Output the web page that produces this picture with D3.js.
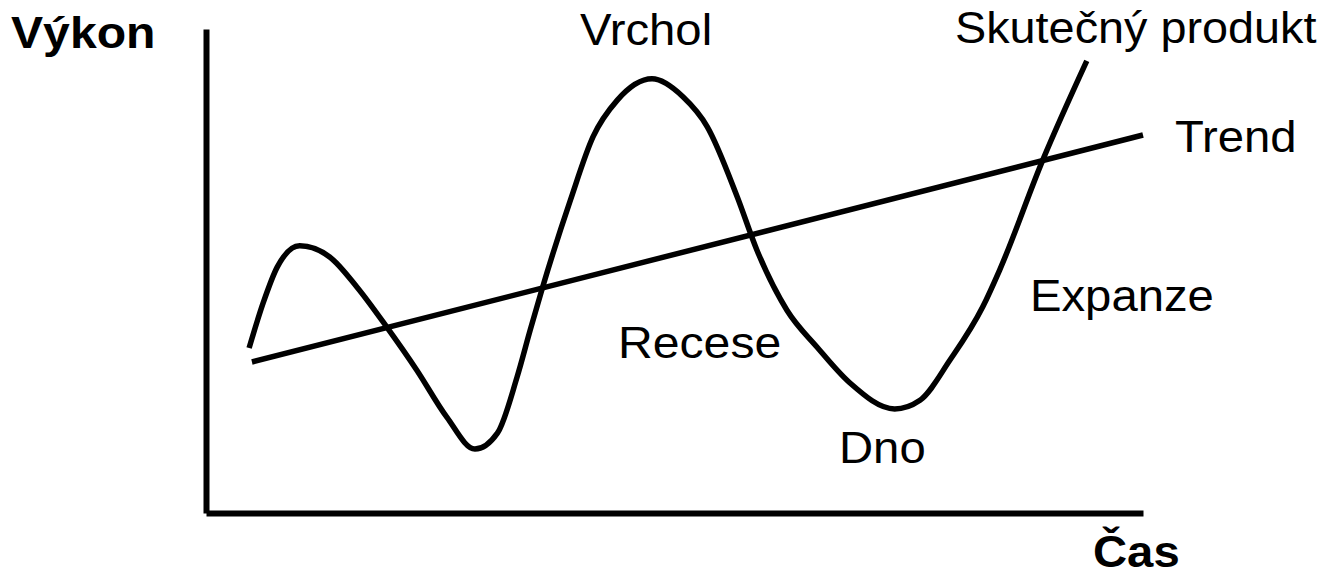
<!DOCTYPE html>
<html>
<head>
<meta charset="utf-8">
<script src="https://cdn.jsdelivr.net/npm/d3@7"></script>
<style>
  html, body { margin: 0; padding: 0; background: #fff; }
  svg { display: block; }
  text { font-family: "Liberation Sans", Arial, sans-serif; fill: #000; }
</style>
</head>
<body>
<svg id="chart" width="1332" height="573"></svg>
<script>
// ---- data (time 0..100, performance 0..100) ----
const cycleTime = [4.6, 6.1, 7.6, 10.0, 13.2, 16.1, 19.3, 22.5, 25.7, 28.7, 31.1, 33.2, 34.6, 35.9, 38.9, 41.3, 43.9, 47.6, 50.9, 53.5, 56.7, 58.8, 62.0, 65.2, 68.7, 73.5, 76.2, 79.4, 82.9, 84.7, 89.3, 94.0];
const cycleValue = [34.1, 43.4, 50.8, 55.2, 52.9, 46.7, 38.4, 29.5, 19.8, 13.2, 16.5, 28.1, 37.8, 46.5, 64.7, 77.7, 85.3, 89.7, 86.0, 79.8, 65.3, 54.3, 41.9, 34.3, 26.9, 21.5, 23.3, 31.6, 42.6, 50.2, 72.9, 93.4];
const trendTime = [4.9, 100];
const trendValue = [31.2, 78.1];
const axisTitles = ["Výkon", "Čas"];
const phaseLabels = ["Vrchol", "Recese", "Dno", "Expanze"];
const seriesLabels = ["Skutečný produkt", "Trend"];

// ---- layout ----
const svg = d3.select("#chart");
const x = d3.scaleLinear().domain([0, 100]).range([206, 1143]);
const y = d3.scaleLinear().domain([0, 100]).range([513, 29]);

// axes (no ticks)
const xAxis = d3.axisBottom(x).tickValues([]).tickSizeOuter(0);
const yAxis = d3.axisLeft(y).tickValues([]).tickSizeOuter(0);
const gx = svg.append("g").attr("transform", `translate(0,${y(0)})`).call(xAxis);
const gy = svg.append("g").attr("transform", `translate(${x(0)},0)`).call(yAxis);
[gx, gy].forEach(g => g.select(".domain").attr("stroke", "#000").attr("stroke-width", 6).attr("stroke-linecap", "butt"));

// trend line
const trend = trendTime.map((t, i) => [t, trendValue[i]]);
svg.append("path")
  .attr("d", d3.line().x(d => x(d[0])).y(d => y(d[1]))(trend))
  .attr("fill", "none").attr("stroke", "#000").attr("stroke-width", 5.5);

// actual product curve
const cycle = cycleTime.map((t, i) => [t, cycleValue[i]]);
svg.append("path")
  .attr("d", d3.line().curve(d3.curveMonotoneX).x(d => x(d[0])).y(d => y(d[1]))(cycle))
  .attr("fill", "none").attr("stroke", "#000").attr("stroke-width", 5.5)
  .attr("stroke-linejoin", "round");

// labels: [x, baseline, bold, horizontal stretch]
const labelPos = {
  "Výkon": [11, 48, true, 1.07],
  "Čas": [1093, 567, true, 1.05],
  "Vrchol": [580, 45, false, 1.05],
  "Recese": [618, 358, false, 1.07],
  "Dno": [839, 463, false, 1.05],
  "Expanze": [1030, 311, false, 1.05],
  "Skutečný produkt": [955, 43, false, 1.04],
  "Trend": [1175, 152, false, 1.05]
};
const allLabels = axisTitles.concat(phaseLabels, seriesLabels);
svg.selectAll("text.lbl").data(allLabels).enter().append("text")
  .attr("class", "lbl")
  .attr("transform", d => `translate(${labelPos[d][0]},${labelPos[d][1]}) scale(${labelPos[d][3]},1)`)
  .attr("font-size", 45)
  .attr("font-weight", d => labelPos[d][2] ? "bold" : "normal")
  .text(d => d);
</script>
</body>
</html>
